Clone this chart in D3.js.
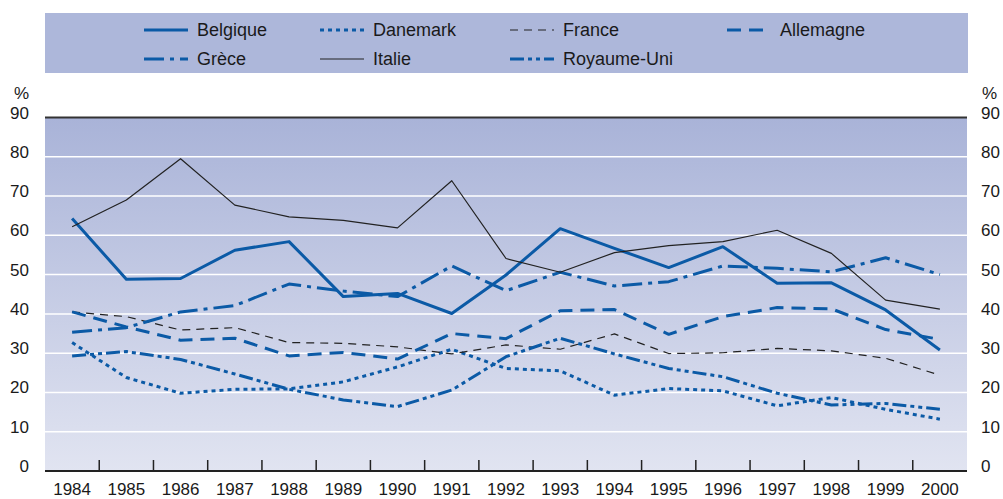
<!DOCTYPE html>
<meta charset="utf-8">
<style>
body { margin: 0; background: #fff; }
text { font-family: "Liberation Sans", Arial, sans-serif; fill: #1a1a1a; }
</style>
<body>
<script src="https://d3js.org/d3.v7.min.js"></script>
<script>

// years and series values (%)
var years = ["1984","1985","1986","1987","1988","1989","1990","1991","1992",
             "1993","1994","1995","1996","1997","1998","1999","2000"];

var belgique    = [64.3, 48.8, 49.0, 56.2, 58.4, 44.4, 45.2, 40.1, 49.9, 61.7, 56.7, 51.8, 57.1, 47.8, 47.9, 41.0, 30.8];
var danemark    = [32.7, 23.8, 19.8, 20.8, 20.9, 22.7, 26.5, 31.0, 26.1, 25.5, 19.3, 21.0, 20.4, 16.6, 18.7, 15.7, 13.2];
var france      = [40.5, 39.3, 35.9, 36.5, 32.7, 32.5, 31.6, 29.8, 32.1, 31.0, 34.9, 29.9, 30.1, 31.2, 30.6, 28.7, 24.4];
var allemagne   = [40.5, 36.7, 33.3, 33.8, 29.3, 30.2, 28.5, 35.0, 33.7, 40.8, 41.1, 34.8, 39.3, 41.6, 41.3, 36.0, 33.5];
var grece       = [35.3, 36.5, 40.5, 42.1, 47.6, 45.8, 44.4, 52.2, 45.9, 50.6, 47.1, 48.2, 52.2, 51.6, 50.7, 54.3, 50.0];
var italie      = [62.2, 69.0, 79.5, 67.7, 64.7, 63.8, 61.9, 73.9, 54.1, 50.6, 55.6, 57.4, 58.4, 61.3, 55.4, 43.5, 41.2];
var royaumeUni  = [29.3, 30.4, 28.4, 24.7, 20.8, 18.1, 16.4, 20.6, 29.1, 33.8, 29.8, 26.1, 24.0, 19.8, 16.8, 17.2, 15.7];

var yTicks = [0, 10, 20, 30, 40, 50, 60, 70, 80, 90];

var blue = "#0b5aa6";

// series with their line style
var series = [
  {name: "Belgique",    values: belgique,   color: blue,   width: 3,   dash: null,           col: 0, row: 0},
  {name: "Danemark",    values: danemark,   color: blue,   width: 3,   dash: "4,4",          col: 1, row: 0},
  {name: "France",      values: france,     color: "#222", width: 1.2, dash: "8,6",          col: 2, row: 0},
  {name: "Allemagne",   values: allemagne,  color: blue,   width: 3,   dash: "14,8",         col: 3, row: 0},
  {name: "Grèce",       values: grece,      color: blue,   width: 3,   dash: "20,6,4,6",     col: 0, row: 1},
  {name: "Italie",      values: italie,     color: "#222", width: 1.2, dash: null,           col: 1, row: 1},
  {name: "Royaume-Uni", values: royaumeUni, color: blue,   width: 3,   dash: "14,4,4,4,4,4", col: 2, row: 1}
];

var W = 1003, H = 499;
var plotL = 45, plotR = 967, plotT = 117.5, plotB = 471;

var svg = d3.select("body").append("svg")
    .attr("width", W)
    .attr("height", H);

var x = d3.scaleBand().domain(years).range([plotL, plotR]).padding(0);
var y = d3.scaleLinear().domain([0, 90]).range([plotB, plotT]);

// background gradient
var grad = svg.append("defs").append("linearGradient")
    .attr("id", "bg-grad")
    .attr("x1", 0).attr("y1", 0).attr("x2", 0).attr("y2", 1);
grad.append("stop").attr("offset", "0%").attr("stop-color", "#a9b3d8");
grad.append("stop").attr("offset", "100%").attr("stop-color", "#e1e4f1");

svg.append("rect")
    .attr("x", plotL).attr("y", plotT)
    .attr("width", plotR - plotL).attr("height", plotB - plotT)
    .attr("fill", "url(#bg-grad)");

// white gridlines
svg.append("g")
  .selectAll("line")
  .data(yTicks.filter(function(d) { return d > 0 && d < 90; }))
  .enter().append("line")
    .attr("x1", plotL).attr("x2", plotR)
    .attr("y1", function(d) { return y(d); })
    .attr("y2", function(d) { return y(d); })
    .attr("stroke", "#fff")
    .attr("stroke-width", 1.5);

// top line at 90
svg.append("line")
    .attr("x1", plotL).attr("x2", plotR)
    .attr("y1", y(90)).attr("y2", y(90))
    .attr("stroke", "#333").attr("stroke-width", 2);

// y labels both sides
var yl = svg.append("g").style("font-size", "17px");
yl.selectAll("text.l")
  .data(yTicks)
  .enter().append("text")
    .attr("class", "l")
    .attr("x", 29)
    .attr("y", function(d) { return y(d) + 1; })
    .attr("text-anchor", "end")
    .text(function(d) { return d; });
yl.selectAll("text.r")
  .data(yTicks)
  .enter().append("text")
    .attr("class", "r")
    .attr("x", 981)
    .attr("y", function(d) { return y(d) + 1; })
    .text(function(d) { return d; });
yl.append("text").attr("x", 29).attr("y", 99).attr("text-anchor", "end").text("%");
yl.append("text").attr("x", 982).attr("y", 99).text("%");

// x axis
var xAxis = svg.append("g")
    .attr("transform", "translate(0," + plotB + ")")
    .call(d3.axisBottom(x).tickSize(0).tickPadding(12));
xAxis.select(".domain").remove();
xAxis.selectAll("text")
    .style("font-size", "17px")
    .attr("fill", "#1a1a1a")
    .style("font-family", "'Liberation Sans', Arial, sans-serif");

// tick marks between years
svg.append("g")
  .selectAll("line")
  .data(years.slice(1))
  .enter().append("line")
    .attr("x1", function(d) { return x(d); })
    .attr("x2", function(d) { return x(d); })
    .attr("y1", plotB).attr("y2", plotB - 11)
    .attr("stroke", "#222").attr("stroke-width", 1.5);

svg.append("line")
    .attr("x1", plotL).attr("x2", plotR)
    .attr("y1", plotB).attr("y2", plotB)
    .attr("stroke", "#222").attr("stroke-width", 2);

// series lines
var line = d3.line()
    .x(function(d, i) { return x(years[i]) + x.bandwidth() / 2; })
    .y(function(d) { return y(d); });

svg.append("g")
  .selectAll("path")
  .data(series)
  .enter().append("path")
    .attr("d", function(s) { return line(s.values); })
    .attr("fill", "none")
    .attr("stroke", function(s) { return s.color; })
    .attr("stroke-width", function(s) { return s.width; })
    .attr("stroke-dasharray", function(s) { return s.dash; })
    .attr("stroke-linejoin", "round");

// legend
svg.append("rect")
    .attr("x", 45).attr("y", 13)
    .attr("width", 923).attr("height", 60)
    .attr("fill", "#adb7da");

var colX = [144, 320, 510, 727];
var rowY = [30, 59];

var lg = svg.append("g")
  .selectAll("g")
  .data(series)
  .enter().append("g")
    .attr("transform", function(s) { return "translate(" + colX[s.col] + "," + rowY[s.row] + ")"; });

lg.append("line")
    .attr("x1", 0).attr("x2", 44)
    .attr("y1", 0).attr("y2", 0)
    .attr("stroke", function(s) { return s.color; })
    .attr("stroke-width", function(s) { return s.width; })
    .attr("stroke-dasharray", function(s) { return s.dash; });

lg.append("text")
    .attr("x", 53)
    .attr("y", 6)
    .style("font-size", "18px")
    .text(function(s) { return s.name; });

</script>
</body>
